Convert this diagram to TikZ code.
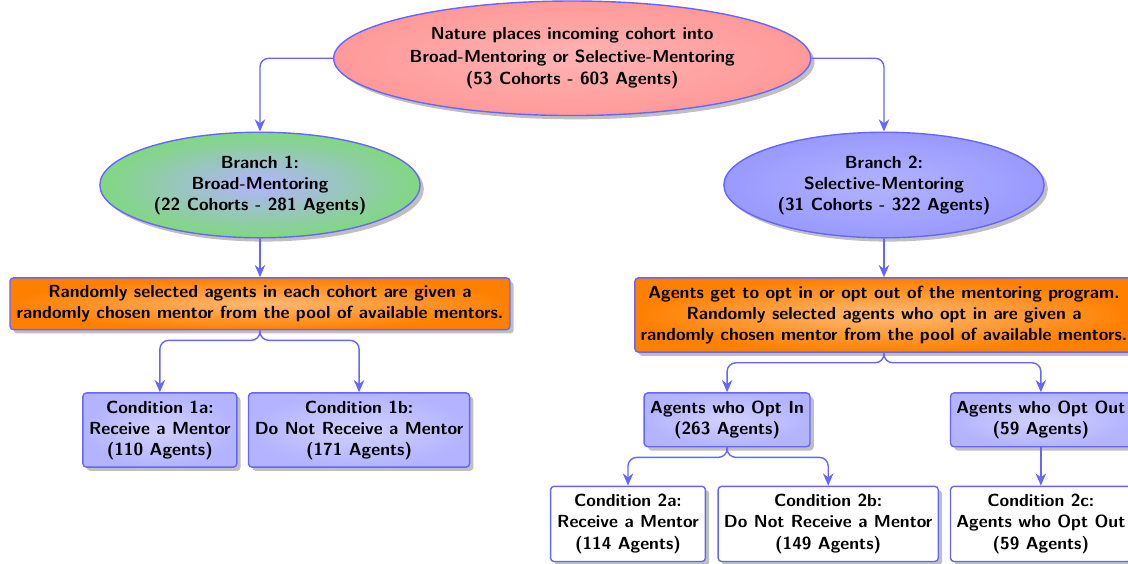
\documentclass[tikz,border=0pt]{standalone}
\usepackage{tikz}
\usetikzlibrary{arrows.meta,positioning,shapes,shadows}
\definecolor{Edge}{HTML}{6666FF}
\definecolor{Leaf}{HTML}{80D880}
\definecolor{Rose}{HTML}{FF9999}
\definecolor{Peri}{HTML}{9999FF}
\definecolor{Lilac}{HTML}{B3B3FF}
\tikzset{
  splitoval/.style={ellipse, draw=Edge, thick, align=center, inner sep=0pt,
    font=\sffamily\bfseries, drop shadow},
  rulebox/.style={rectangle, draw=Edge, thick, rounded corners=2pt, align=center,
    font=\sffamily\bfseries, drop shadow, inner color=orange!55!white, outer color=orange},
  condbox/.style={rectangle, draw=Edge, thick, rounded corners=2pt, align=center,
    font=\sffamily\bfseries, drop shadow, fill=#1},
  condbox/.default={white},
  flowarr/.style={-{Stealth[length=7pt,width=6pt]}, thick, color=Edge, rounded corners=5pt},
}

\begin{document}
\begin{tikzpicture}
  \useasboundingbox (0,0) rectangle (22.65,-11.305);

  % nature splits cohorts
  \node[splitoval, minimum width=9.58cm, minimum height=2.3cm,
    inner color=red!30, outer color=Rose] (nature) at (11.49,-1.17)
    {Nature places incoming cohort into\\[1pt]Broad-Mentoring or Selective-Mentoring\\[1pt](53 Cohorts - 603 Agents)};

  \node[splitoval, minimum width=6.43cm, minimum height=2.12cm,
    inner color=Lilac, outer color=Leaf] (broad) at (5.22,-3.715)
    {Branch 1:\\Broad-Mentoring\\(22 Cohorts - 281 Agents)};
  \node[splitoval, minimum width=6.43cm, minimum height=2.12cm,
    inner color=Lilac, outer color=Peri] (select) at (17.75,-3.715)
    {Branch 2:\\Selective-Mentoring\\(31 Cohorts - 322 Agents)};

  % assignment rules
  \node[rulebox, minimum width=10.04cm, minimum height=1.04cm] (ruleA) at (5.22,-6.10)
    {Randomly selected agents in each cohort are given a\\randomly chosen mentor from the pool of available mentors.};
  \node[rulebox, minimum width=10.0cm, minimum height=1.49cm] (ruleB) at (17.75,-6.325)
    {Agents get to opt in or opt out of the mentoring program.\\Randomly selected agents who opt in are given a\\randomly chosen mentor from the pool of available mentors.};

  % broad conditions
  \node[condbox=Lilac, inner color=blue!18, outer color=Lilac, minimum width=3.09cm, minimum height=1.49cm] (c1a) at (3.21,-8.635)
    {Condition 1a:\\Receive a Mentor\\(110 Agents)};
  \node[condbox=Lilac, inner color=blue!18, outer color=Lilac, minimum width=4.44cm, minimum height=1.49cm] (c1b) at (7.21,-8.635)
    {Condition 1b:\\Do Not Receive a Mentor\\(171 Agents)};

  % selective groups
  \node[condbox=Lilac, inner color=blue!18, outer color=Lilac, minimum width=3.33cm, minimum height=1.08cm] (optin) at (14.60,-8.43)
    {Agents who Opt In\\(263 Agents)};
  \node[condbox=Lilac, inner color=blue!18, outer color=Lilac, minimum width=3.61cm, minimum height=1.08cm] (optout) at (20.90,-8.43)
    {Agents who Opt Out\\(59 Agents)};

  \node[condbox, minimum width=3.11cm, minimum height=1.51cm] (c2a) at (12.61,-10.52)
    {Condition 2a:\\Receive a Mentor\\(114 Agents)};
  \node[condbox, minimum width=4.40cm, minimum height=1.51cm] (c2b) at (16.63,-10.52)
    {Condition 2b:\\Do Not Receive a Mentor\\(149 Agents)};
  \node[condbox, minimum width=3.61cm, minimum height=1.51cm] (c2c) at (20.90,-10.52)
    {Condition 2c:\\Agents who Opt Out\\(59 Agents)};

  \draw[flowarr] (nature.west) -| (broad.north);
  \draw[flowarr] (nature.east) -| (select.north);
  \draw[flowarr] (broad.south) -- (ruleA.north);
  \draw[flowarr] (select.south) -- (ruleB.north);

  \draw[flowarr] (ruleA.south) -- ++(0,-0.2) -| (c1a.north);
  \draw[flowarr] (ruleA.south) -- ++(0,-0.2) -| (c1b.north);
  \draw[flowarr] (ruleB.south) -- ++(0,-0.2) -| (optin.north);
  \draw[flowarr] (ruleB.south) -- ++(0,-0.2) -| (optout.north);
  \draw[flowarr] (optin.south) -- ++(0,-0.2) -| (c2a.north);
  \draw[flowarr] (optin.south) -- ++(0,-0.2) -| (c2b.north);
  \draw[flowarr] (optout.south) -- (c2c.north);
\end{tikzpicture}
\end{document}
